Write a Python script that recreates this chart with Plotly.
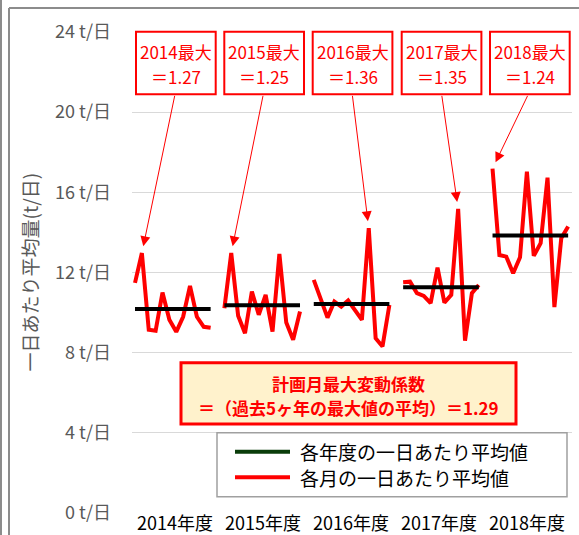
import plotly.graph_objects as go

# Fiscal years shown on the horizontal axis
years = ["2014", "2015", "2016", "2017", "2018"]
year_labels = [f"{y}年度" for y in years]

# Daily average amount for each month (t/day), April..March
fy2014 = [11.48, 12.97, 9.14, 9.09, 11.00, 9.64, 9.04, 9.79, 11.33, 9.79, 9.29, 9.24]
fy2015 = [10.22, 12.97, 9.84, 8.97, 11.05, 9.89, 10.88, 9.05, 12.93, 9.50, 8.64, 10.05]
fy2016 = [11.63, 10.63, 9.75, 10.55, 10.30, 10.60, 10.13, 9.64, 14.21, 8.72, 8.31, 10.38]
fy2017 = [11.51, 11.54, 10.97, 10.83, 10.47, 12.24, 10.50, 10.88, 15.17, 8.60, 10.97, 11.38]
fy2018 = [17.18, 12.87, 12.79, 11.96, 12.76, 17.03, 12.83, 13.46, 16.73, 10.27, 13.71, 14.29]
monthly = [fy2014, fy2015, fy2016, fy2017, fy2018]

# Daily average amount for each fiscal year (t/day)
annual_avg = [10.18, 10.37, 10.43, 11.27, 13.84]

# Maximum monthly variation coefficient of each year (max month / yearly average)
max_ratio = [1.27, 1.25, 1.36, 1.35, 1.24]

# Y axis ticks
y_ticks = [0, 4, 8, 12, 16, 20, 24]
y_ticktext = [f"{v} t/日" for v in y_ticks]

FONT = "Noto Sans CJK JP"
RED = "#FF0000"
SLOT = 13  # 12 months + one empty slot between fiscal years

# Build monthly line (broken between years) and yearly average segments
mx, my, avg_x, avg_y = [], [], [], []
for k, vals in enumerate(monthly):
    base = k * SLOT
    mx += [base + m for m in range(12)] + [None]
    my += vals + [None]
    avg_x += [base, base + 11, None]
    avg_y += [annual_avg[k], annual_avg[k], None]

fig = go.Figure()
fig.add_trace(go.Scatter(x=mx, y=my, mode="lines",
                         line=dict(color=RED, width=4),
                         showlegend=False, hoverinfo="skip"))
fig.add_trace(go.Scatter(x=avg_x, y=avg_y, mode="lines",
                         line=dict(color="#000000", width=4),
                         showlegend=False, hoverinfo="skip"))

W, H = 579, 535
ML, MR, MT, MB = 132, 7, 32, 22
PW, PH = W - ML - MR, H - MT - MB


def px(p):
    return (p - ML) / PW


def py(p):
    return (H - MB - p) / PH


annotations = []
shapes = []


def text(x, y, s, size, color, xanchor="center", bold=False, **kw):
    annotations.append(dict(x=x, y=y, xref="paper", yref="paper",
                            text=f"<b>{s}</b>" if bold else s,
                            showarrow=False, xanchor=xanchor, yanchor="middle",
                            font=dict(family=FONT, size=size, color=color), **kw))


# Year labels under the axis (white background hides the baseline behind them)
label_x = [5.75, 18.62, 31.38, 44.26, 57.02]
for lx, txt in zip(label_x, year_labels):
    annotations.append(dict(x=lx, y=0, xref="x", yref="paper", text=txt,
                            showarrow=False, xanchor="center", yanchor="middle",
                            yshift=-9, bgcolor="white", borderpad=1,
                            font=dict(family=FONT, size=18, color="#000000")))

# Per-year maximum boxes with arrows to the peak month
box_left = [136, 224.3, 312.7, 401.7, 490]
box_w = 79.7
arrow_start_x = [5.82, 18.66, 31.6, 44.6, 57.2]
for k, vals in enumerate(monthly):
    x0, x1 = box_left[k], box_left[k] + box_w
    shapes.append(dict(type="rect", xref="paper", yref="paper",
                       x0=px(x0), x1=px(x1), y0=py(94.3), y1=py(31.7),
                       line=dict(color=RED, width=2), fillcolor="white"))
    cx = px((x0 + x1) / 2)
    text(cx, py(51.7), f"{years[k]}最大", 17, RED)
    text(cx, py(76), f"＝{max_ratio[k]:.2f}", 17, RED)
    peak_m = max(range(12), key=lambda m: vals[m])
    annotations.append(dict(x=k * SLOT + peak_m, y=vals[peak_m], xref="x", yref="y",
                            ax=arrow_start_x[k], ay=20.89, axref="x", ayref="y",
                            text="", showarrow=True, arrowhead=2, arrowsize=2,
                            arrowwidth=1, arrowcolor=RED, standoff=7))

# Planned monthly maximum variation coefficient (average of the five maxima)
plan_coef = sum(max_ratio) / len(max_ratio)
shapes.append(dict(type="rect", xref="paper", yref="paper",
                   x0=px(181), x1=px(516), y0=py(424), y1=py(362.7),
                   line=dict(color=RED, width=3), fillcolor="#FFF2CC"))
text(px(348.5), py(383), "計画月最大変動係数", 17, RED, bold=True)
text(px(348.5), py(407), f"＝（過去5ヶ年の最大値の平均）＝{plan_coef:.2f}", 17, RED, bold=True)

# Legend drawn by hand
shapes.append(dict(type="rect", xref="paper", yref="paper",
                   x0=px(217), x1=px(567), y0=py(496.7), y1=py(432.7),
                   line=dict(color="#a0a0a0", width=1.5), fillcolor="white"))
legend_items = [("#0a3d0a", "各年度の一日あたり平均値", 451.7),
                (RED, "各月の一日あたり平均値", 477.3)]
for color, txt, ly in legend_items:
    shapes.append(dict(type="line", xref="paper", yref="paper",
                       x0=px(235), x1=px(290), y0=py(ly), y1=py(ly),
                       line=dict(color=color, width=4)))
    text(px(298), py(ly), txt, 19, "#000000", xanchor="left")

# Y axis title
text(px(29), 0.5, "一日あたり平均量(t/日)", 19, "#595959", textangle=-90)

# Outer frame lines
frame = dict(color="#8c8c8c", width=2)
shapes.append(dict(type="line", xref="paper", yref="paper",
                   x0=px(1), x1=px(1), y0=py(0), y1=py(H), line=frame))
shapes.append(dict(type="line", xref="paper", yref="paper",
                   x0=px(9), x1=px(9), y0=py(8), y1=py(H), line=frame))
shapes.append(dict(type="line", xref="paper", yref="paper",
                   x0=px(9), x1=px(W), y0=py(8), y1=py(8), line=frame))

fig.update_layout(
    width=W, height=H,
    margin=dict(l=ML, r=MR, t=MT, b=MB, pad=0),
    paper_bgcolor="white", plot_bgcolor="white",
    showlegend=False,
    annotations=annotations,
    shapes=shapes,
    xaxis=dict(range=[-0.436, 63.56], showgrid=False, zeroline=False,
               showticklabels=False, showline=False, fixedrange=True),
    yaxis=dict(range=[0, 24], tickvals=y_ticks, ticktext=y_ticktext,
               showgrid=True, gridcolor="#d9d9d9", gridwidth=1,
               zeroline=False, showline=False, ticks="",
               ticklabelstandoff=20,
               tickfont=dict(family=FONT, size=18, color="#595959"),
               fixedrange=True),
)

fig.write_html("out.html")
